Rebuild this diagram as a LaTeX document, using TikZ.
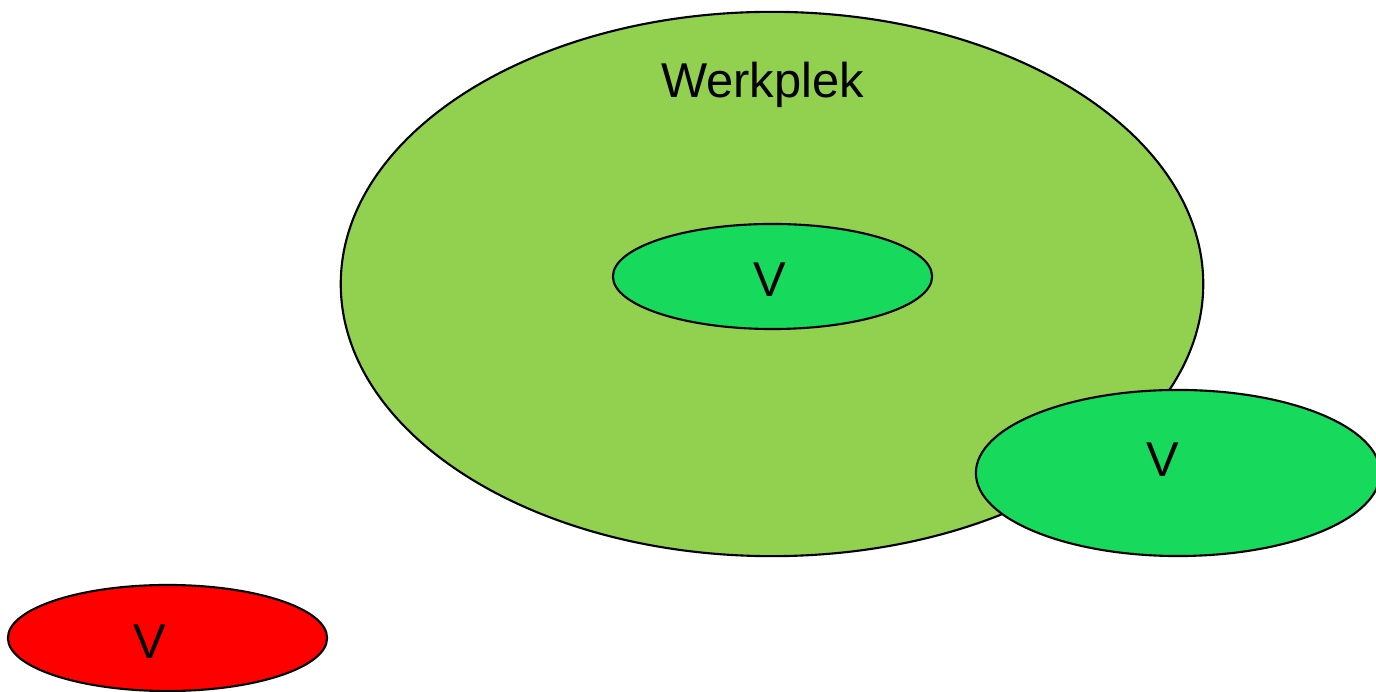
\documentclass[tikz,border=0pt]{standalone}
\usepackage{fontspec}
\setmainfont{Liberation Sans}
\definecolor{werkgroen}{HTML}{92D050}
\definecolor{vgroen}{HTML}{17D95C}
\definecolor{vrood}{HTML}{FF0000}
\tikzset{
  rand/.style={draw=black, line width=0.6pt},
  tekst/.style={anchor=base, inner sep=0pt, font=\fontsize{13.9}{16}\selectfont}
}
\begin{document}
\begin{tikzpicture}[x=0.01cm, y=-0.01cm]
			\useasboundingbox (0, 0) rectangle (1376, 692);
			
			\draw[rand, fill=werkgroen] (772, 284) ellipse [x radius=4.31cm, y radius=2.72cm];
			\draw[rand, fill=vgroen] (772.5, 276.5) ellipse [x radius=1.595cm, y radius=0.525cm];
			\draw[rand, fill=vgroen] (1178, 473) ellipse [x radius=2.02cm, y radius=0.83cm];
			\draw[rand, fill=vrood] (167.5, 638) ellipse [x radius=1.595cm, y radius=0.53cm];
			
			\node[tekst] (werkplek) at (762.5, 98) {Werkplek};
			\node[tekst] (vbinnen) at (770, 297) {V};
			\node[tekst] (vrand) at (1163, 477) {V};
			\node[tekst] (vbuiten) at (150, 659) {V};
		\end{tikzpicture}
\end{document}
